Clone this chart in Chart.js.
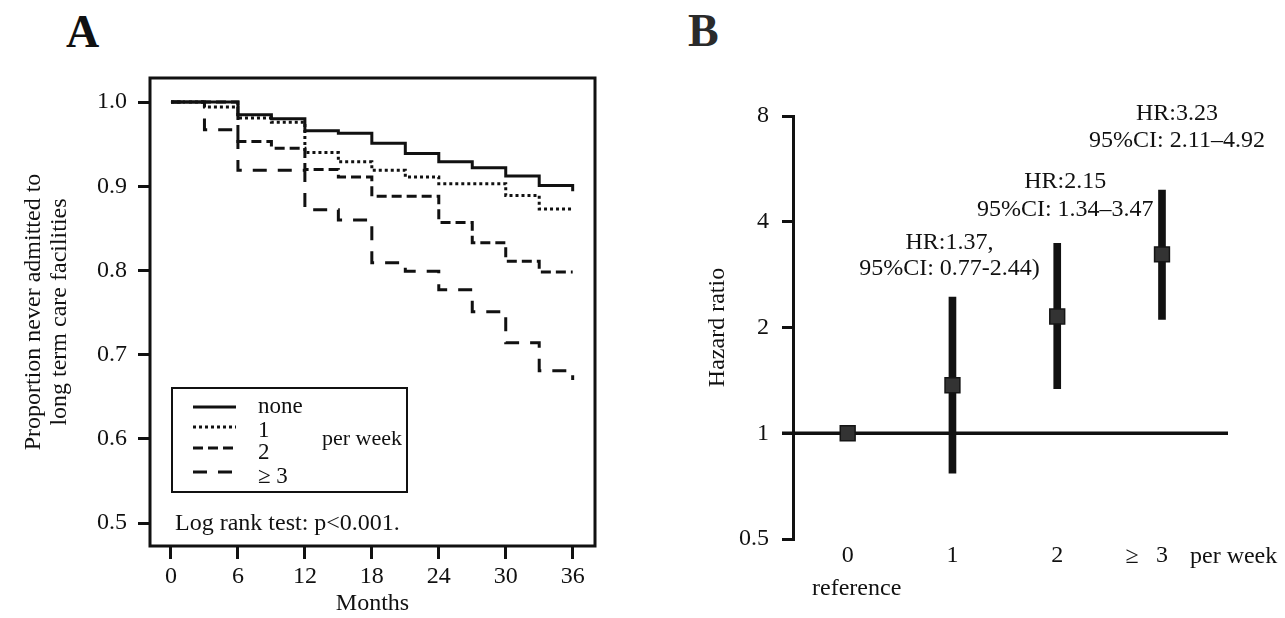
<!DOCTYPE html>
<html>
<head>
<meta charset="utf-8">
<script src="https://cdn.jsdelivr.net/npm/chart.js@4.4.1/dist/chart.umd.min.js"></script>
<style>
body{margin:0;background:#fff;width:1285px;height:618px;overflow:hidden;position:relative;font-family:"Liberation Serif",serif}
canvas{position:absolute;top:0}
#chartA{left:0}
#chartB{left:640px}
.panel{position:absolute;font:bold 46px "Liberation Serif",serif;line-height:1;color:#111}
</style>
</head>
<body>
<div class="panel" style="left:66px;top:9px">A</div>
<div class="panel" style="left:688px;top:8px;color:#2a2a2a">B</div>
<canvas id="chartA" width="640" height="618"></canvas>
<canvas id="chartB" width="645" height="618"></canvas>
<script>
"use strict";
// panel A: Kaplan-Meier curves (months, proportion never admitted)
const seriesNames=["none","1","2","≥ 3"];
const monthsNone=[0,6,9,12,15,18,21,24,27,30,33,36];
const survNone=[1.0,0.985,0.980,0.966,0.963,0.951,0.939,0.929,0.922,0.912,0.901,0.894];
const months1=[0,3,6,9,12,15,18,21,24,30,33,36];
const surv1=[1.0,0.994,0.981,0.976,0.940,0.929,0.919,0.911,0.903,0.889,0.873,0.873];
const months2=[0,6,9,12,15,18,24,27,30,33,36];
const surv2=[1.0,0.953,0.945,0.920,0.911,0.888,0.857,0.833,0.811,0.798,0.798];
const months3=[0,3,6,12,15,18,21,24,27,30,33,36];
const surv3=[1.0,0.967,0.919,0.872,0.860,0.809,0.799,0.777,0.751,0.714,0.681,0.670];
const monthTicks=[0,6,12,18,24,30,36];
const propTicks=[0.5,0.6,0.7,0.8,0.9,1.0];

// panel B: hazard ratios by frequency
const freqLabels=["0","1","2","3"];
const hr=[1,1.37,2.15,3.23];
const ciLow=[null,0.77,1.34,2.11];
const ciHigh=[null,2.44,3.47,4.92];
const hrTicks=[0.5,1,2,4,8];
const hrNotes=[null,["HR:1.37,","95%CI: 0.77-2.44)"],["HR:2.15","95%CI: 1.34–3.47"],["HR:3.23","95%CI: 2.11–4.92"]];

const INK="#111";
const SERIF='"Liberation Serif", serif';
Chart.defaults.font.family=SERIF;
Chart.defaults.color=INK;
const f24={family:SERIF,size:24};

const dashes=[[],[3,3],[10,5],[14,11]];
const kmSets=[[monthsNone,survNone],[months1,surv1],[months2,surv2],[months3,surv3]];

//box round the plot, legend and test text
const panelA={
    id:"panelA",
    afterDraw(c){
        const ctx=c.ctx,a=c.chartArea;
        ctx.save();
        ctx.strokeStyle=INK;ctx.fillStyle=INK;
        ctx.lineWidth=3;
        ctx.strokeRect(a.left,a.top,a.right-a.left,a.bottom-a.top);
        ctx.lineWidth=2;
        ctx.strokeRect(172,388,235,104);
        const rows=[407,427,448,472];
        const base=[413,437,459,483];
        ctx.font='23px '+SERIF;
        ctx.textBaseline="alphabetic";
        c.data.datasets.forEach((d,i)=>{
            ctx.lineWidth=3;
            ctx.setLineDash(d.borderDash);
            ctx.beginPath();ctx.moveTo(193,rows[i]);ctx.lineTo(236,rows[i]);ctx.stroke();
            ctx.setLineDash([]);
            ctx.fillText(d.label,258,base[i]);
        });
        ctx.font='22px '+SERIF;
        ctx.fillText("per week",322,445);
        ctx.font='24px '+SERIF;
        ctx.fillText("Log rank test: p<0.001.",175,530);
        ctx.restore();
    }
};

new Chart(document.getElementById("chartA"),{
    type:"line",
    data:{
        datasets:kmSets.map(([m,s],i)=>({
            label:seriesNames[i],
            data:m.map((x,j)=>({x,y:s[j]})),
            stepped:true,
            borderColor:INK,
            borderWidth:3,
            borderDash:dashes[i],
            pointRadius:0,
            fill:false
        }))
    },
    options:{
        responsive:false,
        animation:false,
        layout:{padding:{top:78,right:45,left:0,bottom:0}},
        plugins:{legend:{display:false},tooltip:{enabled:false}},
        scales:{
            x:{
                type:"linear",min:-1.88,max:38,
                afterBuildTicks:s=>{s.ticks=monthTicks.map(v=>({value:v}))},
                afterFit:s=>{s.height=72},
                grid:{drawOnChartArea:false,tickLength:13,lineWidth:3,color:INK},
                border:{display:false},
                ticks:{font:f24,color:INK,padding:3,maxRotation:0,autoSkip:false},
                title:{display:true,text:"Months",font:f24,color:INK,padding:{top:0,bottom:0}}
            },
            y:{
                type:"linear",min:0.4728,max:1.0285,
                afterBuildTicks:s=>{s.ticks=propTicks.map(v=>({value:v}))},
                afterFit:s=>{s.width=150},
                grid:{drawOnChartArea:false,tickLength:12,lineWidth:3,color:INK},
                border:{display:false},
                ticks:{font:f24,color:INK,padding:11,callback:v=>v.toFixed(1)},
                title:{display:true,text:["Proportion never admitted to","long term care facilities"],
                    font:{family:SERIF,size:24,lineHeight:1.08},color:INK,padding:{top:21}}
            }
        }
    },
    plugins:[panelA]
});

//reference line at HR=1 and the text notes
const panelB={
    id:"panelB",
    beforeDatasetsDraw(c){
        const {ctx,chartArea:a}=c,y=c.scales.y;
        const py=y.getPixelForValue(1);
        ctx.save();
        ctx.strokeStyle=INK;ctx.lineWidth=3.5;
        ctx.beginPath();ctx.moveTo(a.left-11,py);ctx.lineTo(a.right,py);ctx.stroke();
        ctx.restore();
    },
    afterDraw(c){
        const {ctx}=c,x=c.scales.x,y=c.scales.y;
        const offs=[null,[-3,-54,-28],[8,-62,-34],[15,-76,-49]];
        ctx.save();
        ctx.fillStyle=INK;
        ctx.font='24px '+SERIF;
        ctx.textAlign="center";ctx.textBaseline="middle";
        hrNotes.forEach((n,i)=>{
            if(!n)return;
            const px=x.getPixelForValue(i)+offs[i][0];
            const top=y.getPixelForValue(ciHigh[i]);
            ctx.fillText(n[0],px,top+offs[i][1]);
            ctx.fillText(n[1],px,top+offs[i][2]);
        });
        ctx.textBaseline="alphabetic";
        ctx.fillText("reference",x.getPixelForValue(0)+9,595);
        ctx.fillText("≥",x.getPixelForValue(3)-30,563);
        ctx.textAlign="left";
        ctx.fillText("per week",x.getPixelForValue(3)+28,563);
        ctx.restore();
    }
};

new Chart(document.getElementById("chartB"),{
    type:"bar",
    data:{
        datasets:[
            {
                type:"line",
                data:hr.map((v,i)=>({x:i,y:v})),
                showLine:false,
                pointStyle:"rect",
                pointRadius:10.5,
                pointBackgroundColor:"#333",
                pointBorderColor:"#151515",
                pointBorderWidth:1.5,
                order:1
            },
            {
                type:"bar",
                data:ciLow.map((l,i)=>l==null?null:{x:i,y:[l,ciHigh[i]]}).filter(d=>d),
                barThickness:7,
                backgroundColor:INK,
                borderSkipped:false,
                order:2
            }
        ]
    },
    options:{
        responsive:false,
        animation:false,
        layout:{padding:{top:116,right:57,left:40,bottom:0}},
        plugins:{legend:{display:false},tooltip:{enabled:false}},
        scales:{
            x:{
                type:"linear",min:-0.522,max:3.63,offset:false,
                afterBuildTicks:s=>{s.ticks=freqLabels.map((_,i)=>({value:i}))},
                afterFit:s=>{s.height=79},
                grid:{display:false,drawTicks:false,offset:false},
                border:{display:false},
                ticks:{font:f24,color:INK,padding:2,maxRotation:0,autoSkip:false,callback:v=>freqLabels[v]}
            },
            y:{
                type:"logarithmic",min:0.5,max:8,
                afterBuildTicks:s=>{s.ticks=hrTicks.map(v=>({value:v}))},
                afterFit:s=>{s.width=113},
                grid:{drawOnChartArea:false,tickLength:11,lineWidth:3,color:INK},
                border:{display:true,width:3,color:INK},
                ticks:{font:f24,color:INK,padding:13,callback:v=>String(v)},
                title:{display:true,text:"Hazard ratio",font:f24,color:INK,padding:{top:23}}
            }
        }
    },
    plugins:[panelB]
});
</script>
</body>
</html>
